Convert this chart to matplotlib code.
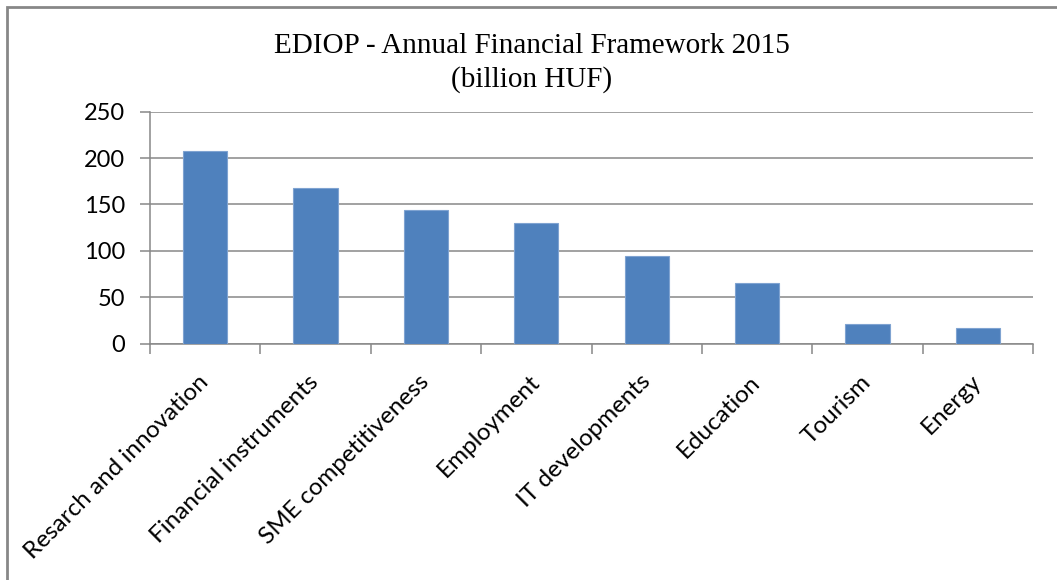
import matplotlib
matplotlib.use("Agg")
import matplotlib.pyplot as plt
from matplotlib.patches import Rectangle
import numpy as np

categories = ["Resarch and innovation", "Financial instruments", "SME competitiveness",
              "Employment", "IT developments", "Education", "Tourism", "Energy"]
values = [208, 168, 144, 130.5, 94.5, 65.5, 21.2, 17]
yticks = [0, 50, 100, 150, 200, 250]
title = "EDIOP - Annual Financial Framework 2015\n(billion HUF)"

fig = plt.figure(figsize=(10.57, 5.8), dpi=100)
ax = fig.add_axes([150/1057, 1-343.7/580, (1033-150)/1057, 232/580])

grid_c = "#888888"
x = np.arange(len(categories))
ax.bar(x, values, width=0.4, color="#4F81BD", edgecolor="#7FA3D1", linewidth=0.8, zorder=3)

ax.set_xlim(-0.5, len(categories) - 0.5)
ax.set_ylim(0, 250)
ax.set_yticks(yticks)
ax.set_yticklabels([str(t) for t in yticks], fontsize=17, family="Lato")
ax.yaxis.grid(True, color=grid_c, linewidth=1.1, zorder=0)
ax.tick_params(axis="y", length=7, width=1.1, color=grid_c, pad=11)

ax.set_xticks(np.arange(len(categories) + 1) - 0.5)
ax.set_xticklabels([])
ax.set_xticks(x, minor=True)
ax.set_xticklabels(categories, minor=True, rotation=45, ha="right", va="center",
                   rotation_mode="anchor", fontsize=17.5, family="Lato")
ax.tick_params(axis="x", which="major", length=7, width=1.1, color=grid_c)
ax.tick_params(axis="x", which="minor", length=0, pad=25)

for s in ["top", "right"]:
    ax.spines[s].set_visible(False)
ax.spines["left"].set_color(grid_c)
ax.spines["bottom"].set_color(grid_c)
ax.spines["left"].set_linewidth(1.1)
ax.spines["bottom"].set_linewidth(1.1)

fig.text(532/1057, 1-63/580, title, ha="center", va="center", fontsize=21,
         family="Liberation Serif", linespacing=1.35)

fig.patches.append(Rectangle((7/1057, -0.05), 1.2, 1-7/580+0.05, transform=fig.transFigure,
                             fill=False, edgecolor="#878787", linewidth=2))

fig.savefig("out.png", dpi=100)
